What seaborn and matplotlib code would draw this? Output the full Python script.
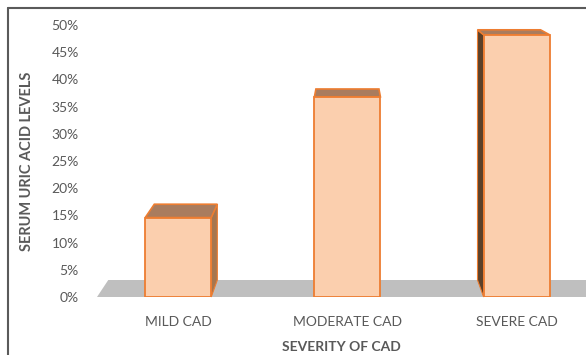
import matplotlib
matplotlib.use("Agg")
import matplotlib.pyplot as plt
from matplotlib.patches import Polygon
from matplotlib.lines import Line2D
import seaborn as sns

categories = ["MILD CAD", "MODERATE CAD", "SEVERE CAD"]
values = [14.6, 36.8, 48.2]          # serum uric acid levels, %
y_ticks = [0, 5, 10, 15, 20, 25, 30, 35, 40, 45, 50]

front_color = "#FBCFAE"
edge_color = "#ED7D31"
top_color = "#A97C5E"
side_light = "#A5764F"
side_dark = "#5B4029"
floor_color = "#BFBFBF"
text_color = "#595959"

sns.set_theme(style="white")
plt.rcParams["font.family"] = ["Lato", "DejaVu Sans"]

fig = plt.figure(figsize=(5.86, 3.55), dpi=100)
ax = fig.add_axes([97 / 586, 1 - 297 / 355, 1 - 97 / 586, 272 / 355])

bar_w = 0.39
sns.barplot(x=categories, y=values, width=bar_w, color=front_color,
            edgecolor=edge_color, linewidth=1.3, saturation=1, ax=ax)
for p in ax.patches:
    p.set_zorder(3)

# simple perspective: back points move toward a vanishing point
vx, vy = 1.0, 68.2
fx, fy = 0.045, 0.0458


def back(x, y):
    return x + fx * (vx - x), y + fy * (vy - y)


x0, x1 = -0.48, 2.6
floor = [(x0, 0), (x1, 0), back(x1, 0), back(x0, 0)]
ax.add_patch(Polygon(floor, closed=True, facecolor=floor_color,
                     edgecolor="none", zorder=1, clip_on=False))

for i, h in enumerate(values):
    xl, xr = i - bar_w / 2, i + bar_w / 2
    bl0, bl1 = back(xl, 0), back(xl, h)
    br0, br1 = back(xr, 0), back(xr, h)
    if br1[0] > xr:
        ax.add_patch(Polygon([(xr, 0), (xr, h), br1, br0], closed=True,
                             facecolor=side_light, edgecolor=edge_color,
                             linewidth=0.8, zorder=2, clip_on=False))
    if bl1[0] < xl:
        ax.add_patch(Polygon([(xl, 0), (xl, h), bl1, bl0], closed=True,
                             facecolor=side_dark, edgecolor=edge_color,
                             linewidth=0.8, zorder=2, clip_on=False))
    ax.add_patch(Polygon([(xl, h), (xr, h), br1, bl1], closed=True,
                         facecolor=top_color, edgecolor=edge_color,
                         linewidth=1.2, zorder=2, clip_on=False))

ax.set_xlim(x0, 2.41)
ax.set_ylim(0, 50)
ax.set_yticks(y_ticks)
ax.set_yticklabels([f"{t}%" for t in y_ticks], color=text_color, fontsize=10)
ax.tick_params(axis="x", colors=text_color, labelsize=10, pad=14, length=0)
ax.tick_params(axis="y", pad=13, length=0)
for s in ax.spines.values():
    s.set_visible(False)

ax.set_xlabel("SEVERITY OF CAD", color=text_color, fontsize=10,
              fontweight="bold", labelpad=9)
ax.set_ylabel("SERUM URIC ACID LEVELS", color=text_color, fontsize=10.5,
              fontweight="bold", labelpad=13)

# outer frame (top and left edges visible in the original)
fig.add_artist(Line2D([8 / 586, 1], [1 - 7.5 / 355, 1 - 7.5 / 355],
                      color="#5a5a5a", lw=1.5, transform=fig.transFigure))
fig.add_artist(Line2D([8 / 586, 8 / 586], [0, 1 - 7.5 / 355],
                      color="#5a5a5a", lw=1.5, transform=fig.transFigure))

fig.savefig("out.png", dpi=100)
